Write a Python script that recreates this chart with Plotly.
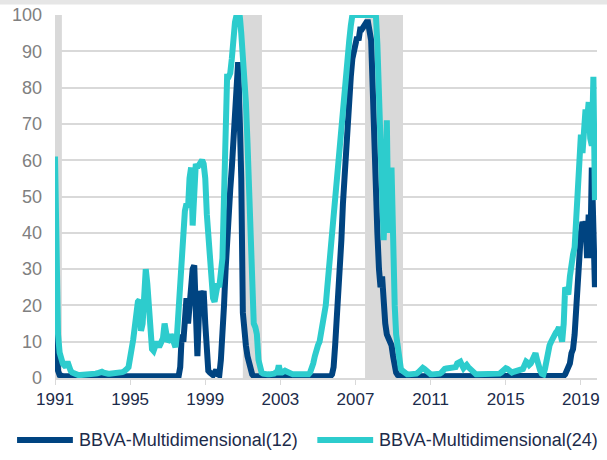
import plotly.graph_objects as go
import pandas as pd

# Monthly values, Jan 1991 .. Oct 2019
bbva12 = (
    [25, 8, 2, 0.8, 0.5, 0.5, 0.5, 0.5, 0.5, 0.5, 0.5, 0.5] +            # 1991
    [0.5] * 12 +                                                          # 1992
    [0.5] * 12 +                                                          # 1993
    [0.5] * 12 +                                                          # 1994
    [0.5] * 12 +                                                          # 1995
    [0.5] * 12 +                                                          # 1996
    [0.5, 0.5, 0.5, 0.5, 0.5, 0.5, 0.5, 0.5, 3, 12, 10, 18] +             # 1997
    [22, 15, 20, 23, 30, 31, 12, 6, 18, 24, 22, 24] +                     # 1998
    [15, 5, 2, 1.5, 1, 0.8, 1.5, 2.2, 1, 0.8, 5, 10] +                    # 1999
    [20, 30, 40, 45, 52, 58, 66, 74, 82, 87, 72, 55] +                    # 2000
    [18, 11, 9, 6, 4, 2, 1, 0.5, 0.5, 0.5, 0.5, 0.5] +                    # 2001
    [0.5] * 12 +                                                          # 2002
    [0.5] * 12 +                                                          # 2003
    [0.5] * 12 +                                                          # 2004
    [0.5, 0.5, 0.5, 0.5, 0.5, 0.5, 0.5, 0.5, 0.5, 1, 3, 9] +              # 2005
    [15, 24, 32, 38, 48, 56, 65, 70, 78, 83, 88, 90] +                    # 2006
    [92, 94, 93, 96, 96, 97, 97, 98, 98, 96, 93, 80] +                    # 2007
    [62, 48, 40, 30, 25, 28, 19, 15, 12, 11, 10, 9] +                     # 2008
    [6, 3, 1.5, 0.8, 0.5, 0.5, 0.5, 0.5, 0.5, 0.5, 0.5, 0.5] +            # 2009
    [0.5] * 12 +                                                          # 2010
    [0.5] * 12 +                                                          # 2011
    [0.5] * 12 +                                                          # 2012
    [0.5] * 12 +                                                          # 2013
    [0.5] * 12 +                                                          # 2014
    [0.5] * 12 +                                                          # 2015
    [0.5] * 12 +                                                          # 2016
    [0.5] * 12 +                                                          # 2017
    [0.5, 0.6, 1, 2.2, 3, 4, 6.8, 8, 12, 20, 28, 35] +                    # 2018
    [40, 43, 42, 43, 33, 45, 33, 58, 46, 25]                              # 2019
)

bbva24 = (
    [61, 30, 12, 7, 5, 4, 3.5, 3, 4.5, 3, 2, 1.5] +                       # 1991
    [1.2, 1, 1, 0.8, 0.8, 0.8, 0.8, 0.8, 0.8, 0.9, 1, 1] +                # 1992
    [1, 1, 1.2, 1.3, 1.5, 1.6, 1.7, 1.5, 1.3, 1.2, 1.2, 1.2] +            # 1993
    [1.2, 1.2, 1.2, 1.2, 1.3, 1.4, 1.5, 1.6, 1.8, 2, 2.5, 3] +            # 1994
    [5, 7, 10.5, 14, 20, 21, 21.5, 13, 15, 22, 30, 26] +                  # 1995
    [20, 13, 8, 7.5, 9, 10, 9, 9, 10, 11, 15, 12] +                       # 1996
    [10, 10.5, 12, 11, 9, 8.5, 12, 19, 28, 37, 44, 46] +                  # 1997
    [48, 47, 55, 58, 42, 56, 59, 58, 59, 59, 60, 59] +                    # 1998
    [55, 45, 38, 30, 27, 22, 21, 23, 26, 25, 30, 33] +                    # 1999
    [50, 82, 83, 83, 84, 88, 95, 98, 100, 100, 100, 95] +                 # 2000
    [90, 82, 76, 65, 50, 35, 20, 15, 14, 12, 5, 2.5] +                    # 2001
    [1.5, 1.2, 1, 1, 1, 1, 1, 1, 1.2, 1.5, 1.5, 3.5] +                    # 2002
    [1.5, 1.5, 2, 2, 1.8, 1.5, 1.2, 1, 1, 1, 1, 1] +                      # 2003
    [1, 1, 1, 1, 1, 1, 1, 1.5, 2.5, 4, 6, 8] +                            # 2004
    [9, 10, 12, 15, 17, 20, 25, 30, 35, 40, 45, 51] +                     # 2005
    [55, 62, 66, 72, 77, 82, 85, 90, 93, 97, 100, 100] +                  # 2006
    [100] * 12 +                                                          # 2007
    [100, 100, 92, 75, 58, 44, 38, 50, 71, 40, 45, 58] +                  # 2008
    [30, 20, 12, 8, 4, 2.5, 2, 1.5, 1.2, 1, 1, 1] +                       # 2009
    [1, 1, 1, 1.2, 1.5, 2, 2.5, 2.8, 2.5, 2, 1.5, 1] +                    # 2010
    [1, 1, 1, 1, 1, 1, 1.2, 1.5, 2.2, 2.5, 2.6, 2.7] +                    # 2011
    [2.7, 2.7, 2.7, 2.8, 3, 4, 4.5, 4.5, 3.5, 2.7, 3.2, 3.6] +            # 2012
    [3, 2.5, 2.2, 1.5, 1, 1, 1, 1, 1, 1, 1, 1] +                          # 2013
    [1, 1, 1, 1, 1, 1, 1, 1, 1.2, 1.5, 2, 2.5] +                          # 2014
    [2.7, 2.5, 2, 1.7, 1.5, 1.7, 1.8, 2, 2.2, 2.2, 2.3, 2.5] +            # 2015
    [3.5, 4.5, 4.2, 3.6, 4, 5, 6, 6.8, 5, 3, 2, 1.2] +                    # 2016
    [1, 2.5, 5, 7.5, 9, 10, 11, 12, 12.5, 13, 14, 12] +                   # 2017
    [10, 15, 25, 24, 23, 28, 33, 34, 36, 45, 55, 62] +                    # 2018
    [67, 62, 73, 74, 71, 76, 66, 64, 83, 49]                              # 2019
)

dates = pd.date_range("1991-01-01", periods=len(bbva24), freq="MS")

# shaded periods
band_starts = ["1991-01-01", "2001-01-01", "2007-07-05"]
band_ends = ["1991-05-15", "2002-01-07", "2009-07-12"]

tick_years = [1991, 1995, 1999, 2003, 2007, 2011, 2015, 2019]
series_names = ["BBVA-Multidimensional(12)", "BBVA-Multidimensional(24)"]
colors = ["#004481", "#2DCCCD"]

fig = go.Figure()
for name, vals, col in zip(series_names, [bbva12, bbva24], colors):
    fig.add_trace(go.Scatter(x=dates, y=vals, mode="lines", name=name,
                             line=dict(color=col, width=6), showlegend=False))

for s, e in zip(band_starts, band_ends):
    fig.add_shape(type="rect", xref="x", yref="y", x0=s, x1=e, y0=0, y1=100,
                  fillcolor="#d9d9d9", line_width=0, layer="between")

# top strip
fig.add_shape(type="rect", xref="paper", yref="paper", x0=-0.2, x1=1.2,
              y0=1.029, y1=1.06, fillcolor="#e6e6e6", line_width=0, layer="above")

# manual legend
leg_y = -0.171
leg_items = [(-0.070, 0.033, 0.041), (0.484, 0.587, 0.594)]
for (lx0, lx1, tx), name, col in zip(leg_items, series_names, colors):
    fig.add_shape(type="line", xref="paper", yref="paper", x0=lx0, x1=lx1,
                  y0=leg_y, y1=leg_y, line=dict(color=col, width=6))
    fig.add_annotation(xref="paper", yref="paper", x=tx, y=leg_y, text=name,
                       showarrow=False, xanchor="left", yanchor="middle",
                       font=dict(size=18, color="#1c2b4a",
                                 family="Liberation Sans, Arial, sans-serif"))

fig.update_layout(
    width=607, height=460,
    margin=dict(l=55, r=10, t=15, b=82),
    paper_bgcolor="white", plot_bgcolor="white",
    font=dict(family="Liberation Sans, Arial, sans-serif"),
    xaxis=dict(type="date", range=["1991-01-01", "2019-11-10"],
               tickvals=[f"{y}-01-01" for y in tick_years],
               ticktext=[str(y) for y in tick_years],
               showgrid=False, zeroline=False, automargin=False,
               showline=True, linecolor="#d9d9d9", linewidth=2,
               ticks="outside", ticklen=5, tickcolor="#d9d9d9",
               tickfont=dict(size=17, color="#1c2b4a")),
    yaxis=dict(range=[0, 100], dtick=10, showgrid=True, gridcolor="#d9d9d9",
               gridwidth=1.5, zeroline=False, showline=False, automargin=False,
               ticks="", ticklabelstandoff=12,
               tickfont=dict(size=18, color="#808080")),
)

fig.write_html("out.html", config={"displayModeBar": False},
               post_script="document.body.style.margin='0px';document.body.style.overflow='hidden';")
